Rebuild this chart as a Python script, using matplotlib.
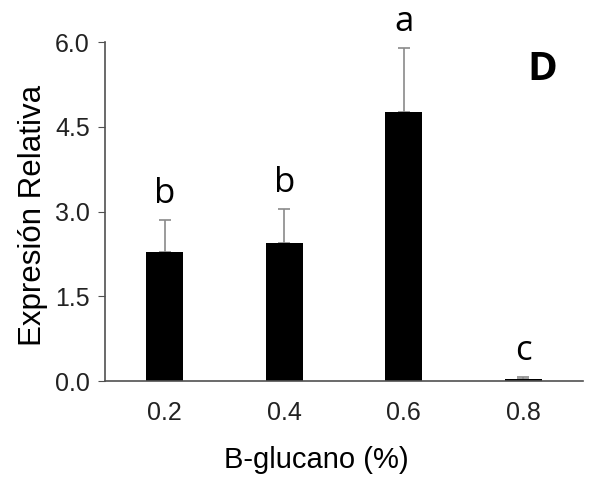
import matplotlib.pyplot as plt

# Datos
concentraciones = ["0.2", "0.4", "0.6", "0.8"]
expresion = [2.28, 2.44, 4.76, 0.04]
error_sup = [0.57, 0.60, 1.13, 0.03]
letras = ["b", "b", "a", "c"]

fig = plt.figure(figsize=(5.94, 4.8), dpi=100)
ax = fig.add_axes([0.1768, 0.206, 0.8047, 0.7065])

pos = range(len(concentraciones))
ax.bar(pos, expresion, width=0.31, color="black", zorder=2)
ax.errorbar(pos, expresion, yerr=[[0] * len(error_sup), error_sup], fmt="none",
            ecolor="#8a8a8a", elinewidth=1.2, capsize=4, capthick=1.2, zorder=1)

# Letras de significancia
for x, y, e, l in zip(pos, expresion, error_sup, letras):
    ax.text(x, y + e + 0.3, l, ha="center", va="baseline",
            fontsize=25, family="Open Sans")

ax.text(0.946, 0.92, "D", transform=ax.transAxes, ha="right", va="center",
        fontsize=29, fontweight="bold", family="Open Sans")

ax.set_xlim(-0.5, 3.5)
ax.set_ylim(0, 6)
ax.set_yticks([0, 1.5, 3.0, 4.5, 6.0])
ax.set_yticklabels(["0.0", "1.5", "3.0", "4.5", "6.0"])
ax.set_xticks(list(pos))
ax.set_xticklabels(concentraciones)

for s in ["top", "right"]:
    ax.spines[s].set_visible(False)
for s in ["left", "bottom"]:
    ax.spines[s].set_color("#505050")
    ax.spines[s].set_linewidth(1.2)

ax.tick_params(axis="y", length=5, color="#505050", labelsize=18, pad=6,
               labelcolor="#222222")
ax.tick_params(axis="x", length=0, labelsize=18, pad=14, labelcolor="#222222")
for lab in ax.get_xticklabels() + ax.get_yticklabels():
    lab.set_family("Liberation Sans")

ax.set_ylabel("Expresión Relativa", fontsize=22.5, family="Liberation Sans")
ax.yaxis.set_label_coords(-0.12, 0.49)
ax.set_xlabel("B-glucano (%)", fontsize=21, family="Liberation Sans")
ax.xaxis.set_label_coords(0.442, -0.19)

fig.savefig("out.png", dpi=100)
